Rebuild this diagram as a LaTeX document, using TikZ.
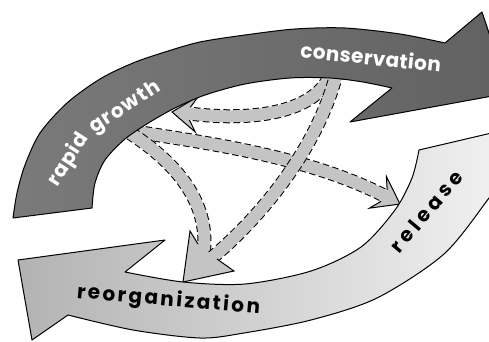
\documentclass[tikz,border=0pt]{standalone}
\usepackage{fontspec}
\newfontfamily\labfont{Poppins}
\definecolor{flowGray}{gray}{0.77}
\newcommand\lfmt{\labfont\bfseries\fontsize{20}{20}\selectfont}
\tikzset{
  band/.style={draw=black, line width=1pt, line join=round},
  topband/.style={band, left color=black!52, right color=black!62},
  botband/.style={band, left color=black!30, right color=black!4},
  flowshaft/.style={draw=flowGray, line width=12pt,
     preaction={draw=black, line width=14pt, dash pattern=on 6.5pt off 3.5pt}},
  flowhead/.style={draw=black, line width=1pt, fill=flowGray, line join=miter},
  bandlabel/.style={anchor=base, inner sep=0pt, text=#1, font=\lfmt}
}
\begin{document}
\begin{tikzpicture}[x=1pt,y=-1pt]
\useasboundingbox (0,0) rectangle (489,342);
\fill[white] (0,0) rectangle (489,342);
\begin{scope}
\clip (0,0) rectangle (489,342);
% anchor points of the inner flows
\coordinate (consA) at (332,70);
\coordinate (consB) at (337,72);
\coordinate (rgA) at (122,128);
\coordinate (rgB) at (125,130);
\coordinate (t1) at (172,112);
\coordinate (e1) at (189,113.5);
\coordinate (e2) at (207,262);
\coordinate (e3) at (203,258);
\coordinate (t4) at (400,204);
\coordinate (e4) at (385,196);
% rapid growth -> release
\draw[flowshaft] (rgB) .. controls (200,142) and (305,155) .. (e4);
\draw[flowhead, shift={(t4)}, rotate=-28] (-18,6.5) -- (-25,18) -- (0,0) -- (-25,-18) -- (-18,-6.5);
% conservation -> rapid growth
\draw[flowshaft] (consA) .. controls (320,112) and (255,122) .. (e1);
\draw[flowhead, shift={(t1)}, rotate=175] (-18,6.5) -- (-25,18) -- (0,0) -- (-25,-18) -- (-18,-6.5);
% rapid growth -> reorganization
\draw[flowshaft] (rgA) .. controls (178,162) and (212,205) .. (e3);
% conservation -> reorganization
\draw[flowshaft] (consB) .. controls (320,140) and (270,210) .. (e2);
\draw[flowhead] (198,244) -- (190,231) -- (183,282) -- (234,271) -- (217,259);
% top band (rapid growth / conservation)
\draw[topband] (13,218) -- (92,208)
  -- plot[smooth] coordinates {(92,208) (95,183) (105,160) (125,139) (150,122) (175,108) (205,95) (245,84) (290,78) (330,78) (363,82) (392,88)}
  -- (350,122) -- (509,93) -- (482,12) -- (445,43)
  -- plot[smooth] coordinates {(445,43) (400,34) (345,28) (295,29) (245,35) (200,42) (165,52) (133,63) (100,79) (67,103) (40,133) (25,165) (17,193) (13,218)}
  -- cycle;
% bottom band (release / reorganization)
\draw[botband] (18,260) -- (165,240) -- (125,272)
  -- plot[smooth] coordinates {(125,272) (183,282) (245,284) (311,271) (361,247) (395,210) (412,178) (419,150)}
  -- (530,124) -- (530,160) -- (505,175)
  -- plot[smooth] coordinates {(505,175) (489,198) (444,254) (377,298) (311,320) (244,333) (200,338) (133,330) (68,315)}
  -- (32,340) -- cycle;
% labels
\node[bandlabel=white, rotate=-6] (conservation) at (370,65) {\addfontfeature{LetterSpace=2}conservation};
\node[bandlabel=white, rotate=57] (rapid) at (73,163) {\addfontfeature{LetterSpace=4}rapid};
\node[bandlabel=white, rotate=33] (growth) at (128,112) {\addfontfeature{LetterSpace=6}growth};
\node[bandlabel=black, rotate=-5] (reorganization) at (168,306) {\addfontfeature{LetterSpace=12}reorganization};
\node[bandlabel=black, rotate=50] (release) at (432,216) {\addfontfeature{LetterSpace=20}release};
\end{scope}
\end{tikzpicture}
\end{document}
